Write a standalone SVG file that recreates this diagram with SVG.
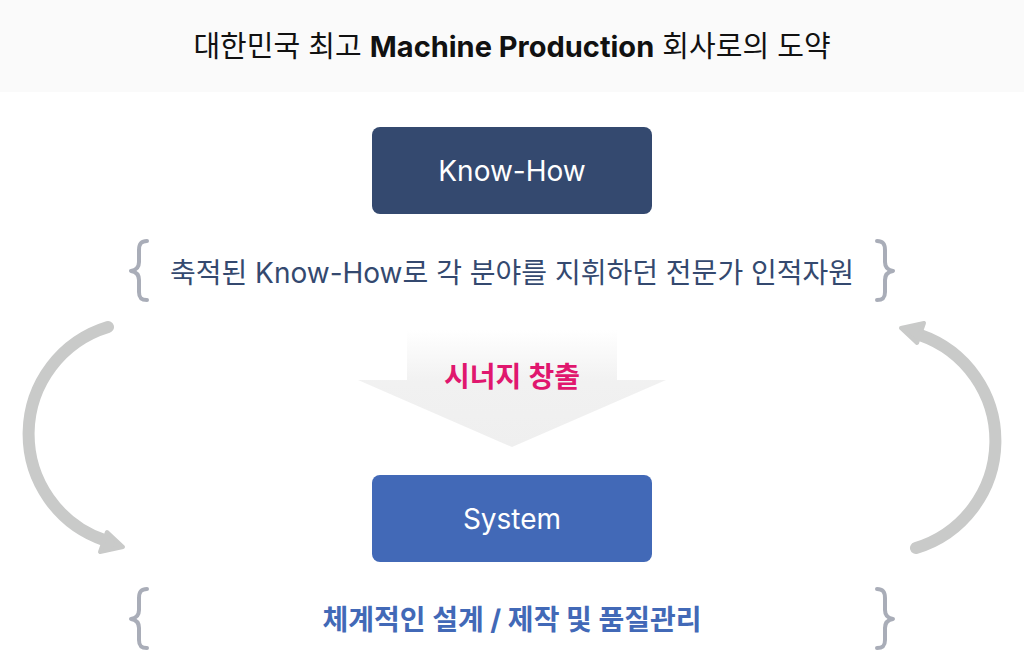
<svg xmlns="http://www.w3.org/2000/svg" width="1024" height="652" viewBox="0 0 1024 652">
<defs>
<linearGradient id="synGrad" x1="0" y1="330" x2="0" y2="447" gradientUnits="userSpaceOnUse">
<stop offset="0" stop-color="#ffffff"/>
<stop offset="0.45" stop-color="#f1f1f1"/>
<stop offset="1" stop-color="#efefef"/>
</linearGradient>
<style>
.t{font-family:"Inter","Noto Sans CJK KR","Noto Sans",sans-serif;text-anchor:middle}
.brace{fill:none;stroke:#a9adb8;stroke-width:4;stroke-linecap:round;stroke-linejoin:round}
.arc{fill:none;stroke:#c9cac9;stroke-width:12;stroke-linecap:round}
.head{fill:#c9cac9;stroke:#c9cac9;stroke-width:4;stroke-linejoin:round}
.box-label{fill:#ffffff;font-size:28px}
.desc{font-size:28px}
</style>
</defs>
<rect x="0" y="0" width="1024" height="652" fill="#ffffff"/>
<g id="header">
<rect x="0" y="0" width="1024" height="92" fill="#fafafa"/>
<text class="t" x="512" y="57" font-size="29" fill="#111111">대한민국 최고 <tspan font-weight="700">Machine Production</tspan> 회사로의 도약</text>
</g>
<g id="connectors">
<path class="arc" d="M108,327 A112,112 0 0 0 104,540"/>
<polygon class="head" points="123,547 107,532 100,552"/>
<path class="arc" d="M916,548 A112,112 0 0 0 920,335"/>
<polygon class="head" points="901,328 917,343 924,323"/>
</g>
<g id="knowhow">
<rect x="372" y="127" width="280" height="87" rx="8" fill="#34496f"/>
<text class="t box-label" x="512" y="181">Know-How</text>
</g>
<g id="knowhow-desc">
<path class="brace" d="M147,241 C141,241 139,244 139,250 L139,262 C139,267 137,270 131,271 C137,272 139,275 139,280 L139,292 C139,298 141,300 147,300"/>
<text class="t desc" x="512" y="283" fill="#34496f">축적된 Know-How로 각 분야를 지휘하던 전문가 인적자원</text>
<path class="brace" d="M877,241 C883,241 885,244 885,250 L885,262 C885,267 887,270 893,271 C887,272 885,275 885,280 L885,292 C885,298 883,300 877,300"/>
</g>
<g id="synergy">
<polygon points="407,330 617,330 617,380 666,380 512,447 358,380 407,380" fill="url(#synGrad)"/>
<text class="t" x="512" y="387" font-size="28" font-weight="600" fill="#e0176e">시너지 창출</text>
</g>
<g id="system">
<rect x="372" y="475" width="280" height="87" rx="8" fill="#4269b7"/>
<text class="t box-label" x="512" y="529">System</text>
</g>
<g id="system-desc">
<path class="brace" d="M147,589 C141,589 139,592 139,598 L139,610 C139,615 137,618 131,619 C137,620 139,623 139,628 L139,640 C139,646 141,648 147,648"/>
<text class="t desc" x="512" y="630" font-weight="700" fill="#4269b7">체계적인 설계 / 제작 및 품질관리</text>
<path class="brace" d="M877,589 C883,589 885,592 885,598 L885,610 C885,615 887,618 893,619 C887,620 885,623 885,628 L885,640 C885,646 883,648 877,648"/>
</g>
</svg>
